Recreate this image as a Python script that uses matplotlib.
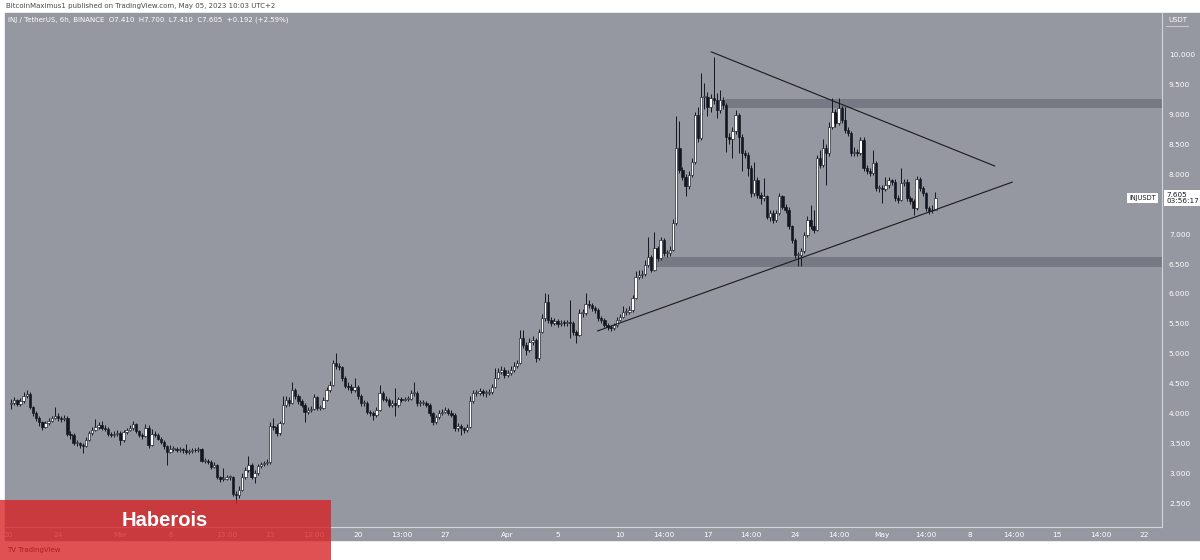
import numpy as np
import matplotlib
matplotlib.use('Agg')
import matplotlib.pyplot as plt
from matplotlib.patches import Rectangle
from matplotlib.lines import Line2D

# INJ / USDT, 6h candles from Feb 20 to May 5 2023
first_open = 4.15
close = [
    4.18, 4.22, 4.16, 4.20, 4.30, 4.33, 4.10, 4.00, 3.92, 3.85, 3.78, 3.84, 3.88, 3.92, 3.95, 3.92,
    3.90, 3.92, 3.66, 3.64, 3.50, 3.50, 3.47, 3.46, 3.56, 3.67, 3.72, 3.78, 3.80, 3.76, 3.74, 3.66,
    3.64, 3.65, 3.67, 3.55, 3.69, 3.72, 3.76, 3.82, 3.70, 3.64, 3.62, 3.76, 3.47, 3.66, 3.64, 3.58,
    3.53, 3.45, 3.36, 3.40, 3.41, 3.39, 3.40, 3.38, 3.35, 3.37, 3.38, 3.39, 3.40, 3.21, 3.21, 3.19,
    3.11, 3.14, 2.93, 2.90, 2.91, 2.93, 2.93, 2.66, 2.64, 2.72, 2.94, 3.05, 3.14, 2.94, 3.00, 3.12,
    3.15, 3.17, 3.18, 3.79, 3.78, 3.67, 3.84, 4.14, 4.23, 4.17, 4.39, 4.29, 4.20, 4.14, 4.03, 4.05,
    4.08, 4.28, 4.09, 4.09, 4.23, 4.39, 4.48, 4.85, 4.79, 4.77, 4.59, 4.46, 4.44, 4.39, 4.45, 4.29,
    4.17, 4.17, 4.03, 4.00, 3.97, 4.06, 4.34, 4.25, 4.23, 4.14, 4.17, 4.14, 4.24, 4.23, 4.24, 4.25,
    4.34, 4.35, 4.17, 4.17, 4.18, 4.14, 4.00, 3.86, 3.94, 4.01, 4.03, 4.06, 4.01, 3.98, 3.75, 3.79,
    3.75, 3.72, 3.78, 4.20, 4.34, 4.34, 4.37, 4.35, 4.35, 4.36, 4.45, 4.60, 4.70, 4.73, 4.64, 4.67,
    4.73, 4.79, 4.84, 5.26, 5.15, 5.06, 5.20, 5.23, 4.92, 5.37, 5.59, 5.87, 5.57, 5.51, 5.54, 5.50,
    5.52, 5.51, 5.52, 5.51, 5.37, 5.31, 5.68, 5.68, 5.83, 5.82, 5.76, 5.73, 5.59, 5.57, 5.48, 5.44,
    5.43, 5.48, 5.57, 5.62, 5.70, 5.70, 5.73, 5.93, 6.29, 6.32, 6.33, 6.49, 6.62, 6.40, 6.76, 6.60,
    6.90, 6.68, 6.68, 6.74, 7.18, 8.44, 8.07, 7.96, 7.80, 7.99, 8.21, 9.00, 8.61, 9.30, 9.30, 9.13,
    9.27, 9.25, 9.08, 9.25, 9.16, 8.63, 8.60, 8.72, 9.00, 8.63, 8.35, 8.33, 8.10, 7.68, 7.91, 7.66,
    7.60, 7.63, 7.29, 7.35, 7.24, 7.35, 7.63, 7.46, 7.41, 7.13, 6.90, 6.65, 6.65, 6.71, 6.99, 7.24,
    7.13, 7.07, 8.27, 8.16, 8.44, 8.35, 8.80, 9.05, 8.86, 9.11, 8.91, 8.74, 8.69, 8.35, 8.38, 8.35,
    8.58, 8.10, 8.05, 8.02, 8.19, 7.77, 7.77, 7.75, 7.82, 7.90, 7.88, 7.60, 7.57, 7.85, 7.88, 7.60,
    7.55, 7.43, 7.93, 7.77, 7.68, 7.43, 7.38, 7.41, 7.605,
]
high = [
    4.25, 4.27, 4.25, 4.26, 4.36, 4.40, 4.36, 4.13, 4.04, 3.95, 3.88, 3.88, 3.93, 3.96, 4.10, 4.00,
    3.96, 3.97, 3.95, 3.70, 3.67, 3.55, 3.53, 3.50, 3.60, 3.70, 3.77, 3.90, 3.85, 3.88, 3.80, 3.77,
    3.69, 3.70, 3.72, 3.70, 3.72, 3.76, 3.80, 3.88, 3.84, 3.73, 3.68, 3.82, 3.80, 3.74, 3.70, 3.67,
    3.61, 3.56, 3.48, 3.48, 3.45, 3.44, 3.44, 3.43, 3.49, 3.41, 3.42, 3.43, 3.44, 3.42, 3.26, 3.24,
    3.22, 3.18, 3.16, 2.96, 3.08, 2.97, 2.97, 2.95, 2.70, 2.78, 3.00, 3.10, 3.28, 3.17, 3.05, 3.16,
    3.19, 3.21, 3.23, 3.85, 3.92, 3.82, 3.88, 4.30, 4.29, 4.27, 4.53, 4.42, 4.32, 4.24, 4.17, 4.10,
    4.12, 4.32, 4.30, 4.14, 4.28, 4.44, 4.55, 4.90, 5.01, 4.84, 4.80, 4.62, 4.52, 4.50, 4.59, 4.48,
    4.32, 4.22, 4.20, 4.06, 4.04, 4.10, 4.48, 4.37, 4.29, 4.26, 4.22, 4.42, 4.28, 4.28, 4.28, 4.30,
    4.40, 4.52, 4.38, 4.22, 4.23, 4.21, 4.17, 4.03, 3.98, 4.05, 4.08, 4.10, 4.09, 4.05, 4.01, 3.84,
    3.82, 3.78, 3.82, 4.30, 4.39, 4.40, 4.42, 4.41, 4.40, 4.41, 4.50, 4.76, 4.76, 4.80, 4.77, 4.72,
    4.80, 4.86, 4.90, 5.40, 5.40, 5.20, 5.27, 5.30, 5.26, 5.42, 5.66, 6.02, 6.00, 5.61, 5.59, 5.58,
    5.57, 5.56, 5.57, 5.90, 5.54, 5.40, 5.74, 5.75, 6.01, 5.90, 5.85, 5.80, 5.76, 5.63, 5.60, 5.52,
    5.48, 5.52, 5.61, 5.67, 5.80, 5.76, 5.80, 5.99, 6.38, 6.40, 6.40, 6.56, 6.96, 6.65, 7.04, 6.80,
    6.96, 6.93, 6.74, 6.80, 7.25, 8.97, 8.90, 8.12, 8.00, 8.05, 8.27, 9.05, 9.12, 9.69, 9.53, 9.38,
    9.35, 9.97, 9.36, 9.41, 9.30, 9.20, 8.70, 8.80, 9.08, 9.03, 8.68, 8.40, 8.38, 8.15, 8.20, 7.95,
    7.70, 7.94, 7.66, 7.40, 7.40, 7.40, 7.68, 7.66, 7.50, 7.45, 7.16, 6.93, 6.70, 6.76, 7.03, 7.30,
    7.49, 7.40, 8.33, 8.40, 8.60, 8.50, 8.88, 9.27, 9.10, 9.27, 9.15, 9.13, 8.79, 8.72, 8.45, 8.42,
    8.63, 8.62, 8.15, 8.10, 8.41, 8.22, 7.83, 7.82, 7.96, 7.96, 7.93, 7.92, 7.65, 8.10, 7.93, 7.92,
    7.64, 7.58, 7.98, 7.96, 7.80, 7.71, 7.47, 7.48, 7.70,
]
low = [
    4.08, 4.14, 4.12, 4.13, 4.18, 4.26, 4.07, 3.96, 3.88, 3.79, 3.72, 3.76, 3.81, 3.85, 3.90, 3.88,
    3.86, 3.87, 3.63, 3.58, 3.47, 3.46, 3.43, 3.34, 3.44, 3.54, 3.64, 3.70, 3.74, 3.72, 3.70, 3.62,
    3.60, 3.61, 3.62, 3.47, 3.53, 3.66, 3.70, 3.73, 3.67, 3.61, 3.58, 3.60, 3.42, 3.45, 3.60, 3.55,
    3.49, 3.41, 3.14, 3.33, 3.37, 3.35, 3.36, 3.34, 3.32, 3.32, 3.34, 3.35, 3.36, 3.18, 3.17, 3.15,
    3.07, 3.08, 2.90, 2.86, 2.87, 2.88, 2.89, 2.62, 2.50, 2.58, 2.70, 2.90, 3.02, 2.90, 2.83, 2.97,
    3.09, 3.12, 3.13, 3.16, 3.72, 3.63, 3.64, 3.82, 4.10, 4.12, 4.15, 4.25, 4.16, 4.10, 3.86, 3.99,
    4.02, 4.06, 4.05, 4.05, 4.07, 4.20, 4.36, 4.46, 4.74, 4.72, 4.55, 4.42, 4.40, 4.35, 4.36, 4.25,
    4.13, 4.12, 3.99, 3.95, 3.89, 3.94, 4.04, 4.21, 4.19, 4.10, 4.11, 3.95, 4.11, 4.19, 4.20, 4.21,
    4.22, 4.30, 4.13, 4.13, 4.14, 4.10, 3.96, 3.81, 3.83, 3.91, 3.98, 4.00, 3.97, 3.94, 3.71, 3.71,
    3.64, 3.67, 3.69, 3.76, 4.18, 4.29, 4.31, 4.30, 4.28, 4.31, 4.33, 4.43, 4.57, 4.66, 4.60, 4.61,
    4.64, 4.70, 4.76, 4.82, 5.10, 4.98, 5.02, 5.15, 4.86, 4.90, 5.34, 5.55, 5.52, 5.47, 5.48, 5.45,
    5.47, 5.46, 5.46, 5.26, 5.32, 5.18, 5.29, 5.62, 5.65, 5.77, 5.72, 5.68, 5.55, 5.52, 5.44, 5.39,
    5.38, 5.40, 5.45, 5.54, 5.59, 5.65, 5.66, 5.70, 5.91, 6.25, 6.26, 6.30, 6.45, 6.36, 6.38, 6.55,
    6.57, 6.63, 6.62, 6.64, 6.72, 7.15, 8.02, 7.90, 7.63, 7.76, 7.95, 8.18, 8.55, 8.58, 9.10, 8.98,
    9.05, 9.18, 8.95, 9.02, 9.10, 8.38, 8.50, 8.27, 8.68, 8.35, 8.05, 8.28, 7.98, 7.62, 7.64, 7.60,
    7.50, 7.56, 7.25, 7.22, 7.18, 7.20, 7.32, 7.42, 7.36, 7.08, 6.85, 6.60, 6.46, 6.46, 6.68, 6.96,
    7.08, 7.02, 7.05, 8.10, 8.12, 7.82, 8.30, 8.76, 8.80, 8.83, 8.86, 8.70, 8.64, 8.30, 8.30, 8.30,
    8.32, 8.05, 8.00, 7.97, 7.99, 7.72, 7.70, 7.52, 7.72, 7.78, 7.83, 7.55, 7.52, 7.55, 7.80, 7.55,
    7.50, 7.32, 7.40, 7.72, 7.63, 7.38, 7.33, 7.35, 7.41,
]

# time axis labels, in days after Feb 20
tick_days = [0, 4, 9, 13, 17.5, 21, 24.5, 28, 31.5, 35, 40, 44, 49, 52.5, 56, 59.5,
             63, 66.5, 70, 73.5, 77, 80.5, 84, 87.5, 91]
tick_labels = ['20', '24', 'Mar', '6', '13:00', '13', '13:00', '20', '13:00', '27', 'Apr', '5',
               '10', '14:00', '17', '14:00', '24', '14:00', 'May', '14:00', '8', '14:00', '15',
               '14:00', '22']
price_ticks = [2.5, 3.0, 3.5, 4.0, 4.5, 5.0, 5.5, 6.0, 6.5, 7.0, 8.0, 8.5, 9.0, 9.5, 10.0]

# drawn zones and trend lines (day, price)
top_zone = (57.4, 9.11, 9.26)
bottom_zone = (51.6, 6.45, 6.62)
down_line = ([56.3, 79.0], [10.05, 8.14])
up_line = ([47.2, 80.4], [5.38, 7.87])

W, H = 1200, 560
bg = '#9598a1'
dark = '#131722'


def fx(px):
    return px / W


def fy(py):
    return 1 - py / H


fig = plt.figure(figsize=(12, 5.6), dpi=100, facecolor='white')
fig.patches.append(Rectangle((fx(5), fy(540)), fx(1195), (540 - 13) / H,
                             transform=fig.transFigure, color=bg, zorder=-2))

ax = fig.add_axes([fx(5), fy(527), fx(1157), (527 - 13) / H])
ax.set_facecolor(bg)
for s in ['top', 'left']:
    ax.spines[s].set_visible(False)
for s in ['right', 'bottom']:
    ax.spines[s].set_color('#d1d4dc')
    ax.spines[s].set_linewidth(0.8)

# candles
opens = np.array([first_open] + close[:-1])
c = np.array(close)
days = 0.25 + 0.25 * np.arange(len(c))
up = c >= opens
ax.vlines(days, low, high, color=dark, lw=0.7, zorder=3)
body = np.maximum(np.abs(c - opens), 0.015)
ax.bar(days, body, bottom=np.minimum(opens, c), width=0.19,
       color=np.where(up, 'white', dark), edgecolor=dark, linewidth=0.45, zorder=4)

x_end = 92.39
ax.set_xlim(-0.24, x_end)
ax.set_ylim(2.10, 10.70)

for x0, p0, p1 in [top_zone, bottom_zone]:
    ax.fill_between([x0, x_end], p0, p1, color='#2a2e39', alpha=0.28, lw=0, zorder=2)

ax.plot(*down_line, color='#1a1a1a', lw=0.8, zorder=5)
ax.plot(*up_line, color='#1a1a1a', lw=0.8, zorder=5)

ax.yaxis.tick_right()
ax.set_yticks(price_ticks, ['%.3f' % p for p in price_ticks])
ax.set_xticks(tick_days, tick_labels)
ax.tick_params(axis='y', length=0, pad=5, labelsize=5.3, labelcolor='white')
ax.tick_params(axis='x', length=0, pad=3.5, labelsize=5.3, labelcolor='white')

# last price labels
ax.text(1.0035, 7.605, '7.605\n03:56:17', transform=ax.get_yaxis_transform(),
        ha='left', va='center', fontsize=5.2, color=dark, linespacing=1.1, clip_on=False,
        bbox=dict(boxstyle='square,pad=0.25', fc='white', ec='none'), zorder=6)
ax.text(0.995, 7.605, 'INJUSDT', transform=ax.get_yaxis_transform(),
        ha='right', va='center', fontsize=4.8, color=dark,
        bbox=dict(boxstyle='square,pad=0.3', fc='white', ec='none'), zorder=6)

# header texts
fig.text(fx(6), fy(6), 'BitcoinMaximus1 published on TradingView.com, May 05, 2023 10:03 UTC+2',
         fontsize=5, color='#4a4a4a', va='center')
fig.text(fx(8), fy(20), 'INJ / TetherUS, 6h, BINANCE  O7.410  H7.700  L7.410  C7.605  +0.192 (+2.59%)',
         fontsize=5, color='white', va='center')
fig.text(fx(1168), fy(20), 'USDT', fontsize=5, color='white', va='center')
fig.add_artist(Line2D([fx(1166), fx(1188)], [fy(26), fy(26)], color='#d1d4dc', lw=0.6))

# footer
fig.text(fx(7), fy(550), 'TV TradingView', fontsize=5, color=dark, va='center', zorder=5)
fig.patches.append(Rectangle((0, 0), fx(331), 60 / H, transform=fig.transFigure,
                             color='#d82022', alpha=0.78, lw=0, zorder=10))
fig.text(fx(165), fy(521), 'Haberois', fontsize=14.5, fontweight='bold', color='white',
         family='Liberation Sans', ha='center', va='center', zorder=11)

fig.savefig('out.png', dpi=100, facecolor='white')
